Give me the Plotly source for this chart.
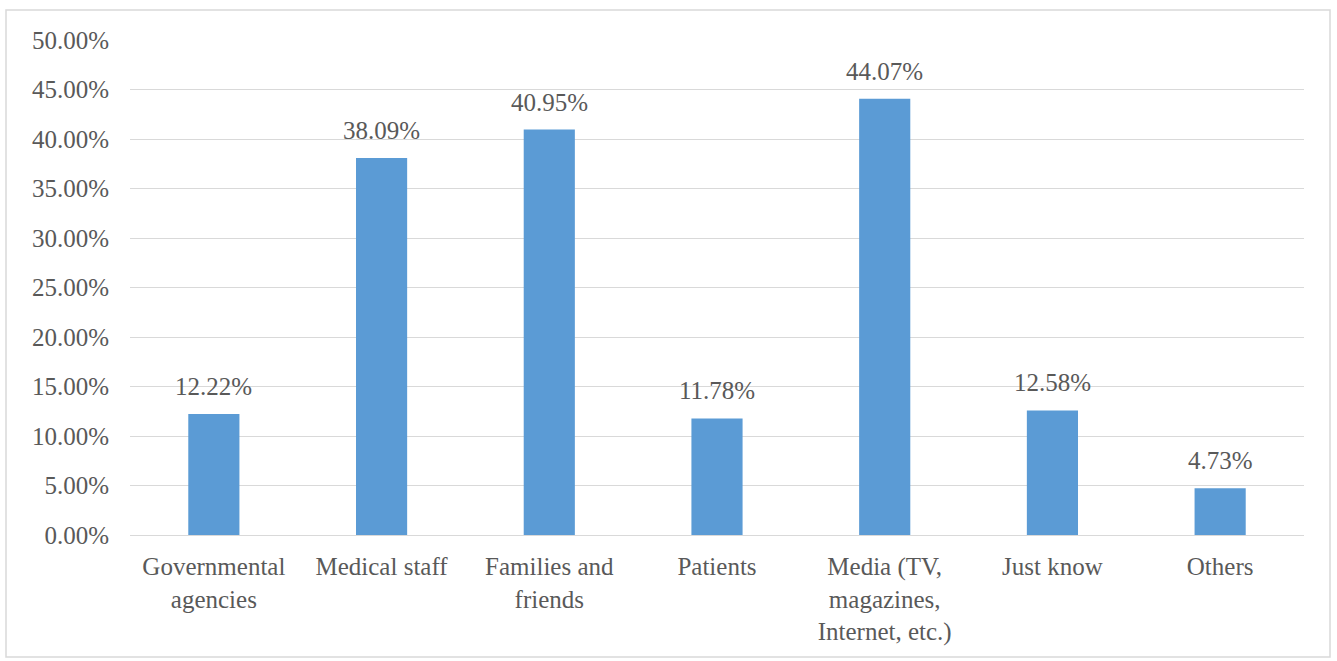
import plotly.graph_objects as go

categories = ["Governmental<br>agencies", "Medical staff", "Families and<br>friends", "Patients",
              "Media (TV,<br>magazines,<br>Internet, etc.)", "Just know", "Others"]
values = [12.22, 38.09, 40.95, 11.78, 44.07, 12.58, 4.73]

W, H = 1337, 661
L, R, T, B = 130, 33, 40, 126
pw = W - L - R
ph = H - T - B
FONT = "Liberation Serif"
GREY = "#595959"
FS = 25

fig = go.Figure(go.Bar(
    x=categories,
    y=[v / 100 for v in values],
    marker=dict(color="#5B9BD5", line=dict(width=0)),
    width=0.305,
    hoverinfo="x+y",
))

for c, v in zip(categories, values):
    fig.add_annotation(x=c, y=v / 100, text=f"{v:.2f}%", showarrow=False,
                       yanchor="bottom", yshift=12,
                       font=dict(family=FONT, size=FS, color=GREY))

fig.update_layout(
    width=W, height=H,
    margin=dict(l=L, r=R, t=T, b=B),
    paper_bgcolor="white", plot_bgcolor="white",
    font=dict(family=FONT, size=FS, color=GREY),
    showlegend=False,
    xaxis=dict(showgrid=False, showline=False, ticks="", ticklabelstandoff=14,
               tickfont=dict(size=FS, color=GREY)),
    yaxis=dict(range=[0, 0.5], dtick=0.05, tickformat=".2%", showgrid=True,
               gridcolor="#d9d9d9", gridwidth=1, zeroline=True, zerolinecolor="#d9d9d9",
               zerolinewidth=1, showline=False, ticks="", ticklabelstandoff=20,
               tickfont=dict(size=FS, color=GREY)),
    shapes=[dict(type="rect", xref="paper", yref="paper",
                 x0=(6 - L) / pw, x1=(1330 - L) / pw,
                 y0=(H - B - 657) / ph, y1=(H - B - 10) / ph,
                 line=dict(color="#d9d9d9", width=1.5), fillcolor="rgba(0,0,0,0)",
                 layer="below")],
)

fig.write_html("out.html")
